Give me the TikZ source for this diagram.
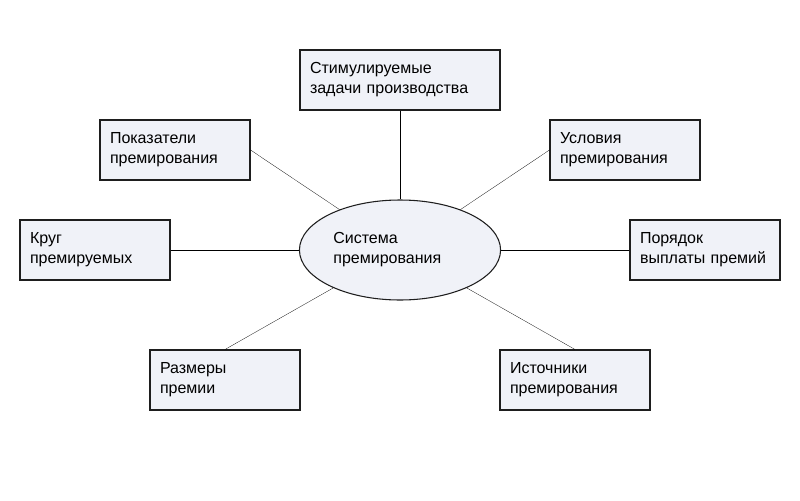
\documentclass[tikz,border=0pt]{standalone}
\usepackage{fontspec}
\setmainfont{Liberation Sans}
\usetikzlibrary{shapes.geometric}
\definecolor{boxfill}{RGB}{240,242,248}
\definecolor{boxline}{RGB}{30,30,30}

\begin{document}
\begin{tikzpicture}[
x=0.75pt, y=-0.75pt,
font=\fontsize{12}{15}\selectfont,
box/.style={draw=boxline,
fill=boxfill,
thick,
rectangle,
minimum width=112.5pt,
minimum height=45pt,
text width=97.5pt,
inner sep=0pt,
align=left},
widebox/.style={box, minimum width=150pt, text width=135pt},
link/.style={draw=black, very thin}
]
\useasboundingbox (0,0) rectangle (800,500);

\node[ellipse, draw=boxline, fill=boxfill, thick, minimum width=150pt, minimum height=75pt, align=left] (sys) at (400,250) {\raisebox{-6pt}{\parbox{100pt}{Система\\премирования}}};

\node[widebox] (tasks) at (400,80) {Стимулируемые\\задачи производства};
\node[box] (pok) at (175,150) {Показатели\\премирования};
\node[box] (usl) at (625,150) {Условия\\премирования};
\node[box] (krug) at (95,250) {Круг\\премируемых};
\node[box] (por) at (705,250) {Порядок\\\mbox{выплаты премий}};
\node[box] (razm) at (225,380) {Размеры\\премии};
\node[box] (ist) at (575,380) {Источники\\премирования};

\draw[link] (tasks) -- (sys);
\draw[link] (pok.east) -- (sys);
\draw[link] (usl.west) -- (sys);
\draw[link] (krug) -- (sys);
\draw[link] (por) -- (sys);
\draw[link] (razm.north) -- (sys);
\draw[link] (ist.north) -- (sys);

\end{tikzpicture}
\end{document}
